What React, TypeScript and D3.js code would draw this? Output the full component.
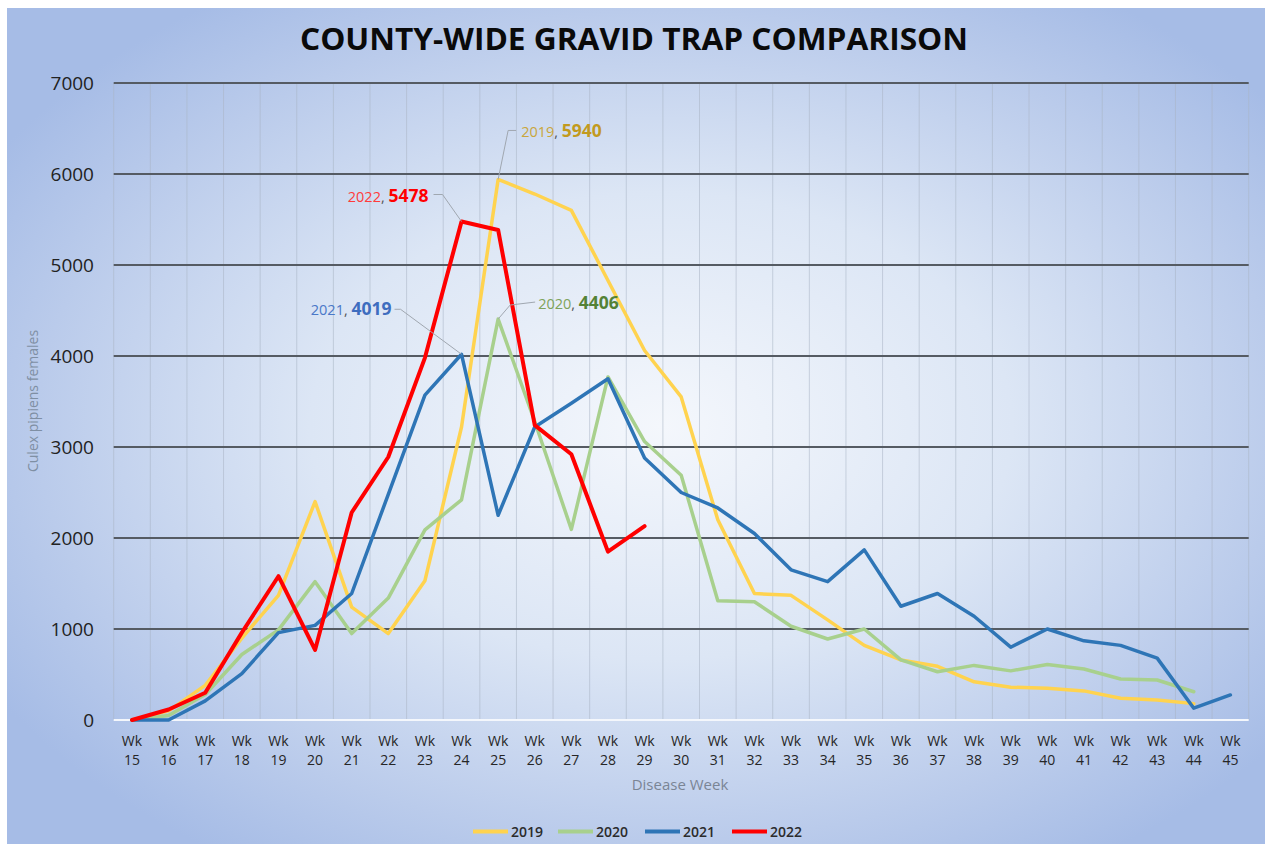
import React from "react";
import * as d3 from "d3";

const weeks = ["15","16","17","18","19","20","21","22","23","24","25","26","27","28","29","30","31","32","33","34","35","36","37","38","39","40","41","42","43","44","45"];
const yTicks = [0, 1000, 2000, 3000, 4000, 5000, 6000, 7000];

const s2019 = [0, 100, 380, 900, 1370, 2400, 1240, 950, 1530, 3220, 5940, 5780, 5600, 4830, 4060, 3550, 2200, 1390, 1370, 1100, 820, 660, 590, 420, 360, 350, 320, 240, 220, 180, null];
const s2020 = [0, 50, 280, 720, 990, 1520, 950, 1340, 2090, 2420, 4406, 3280, 2095, 3770, 3060, 2690, 1310, 1300, 1030, 890, 1000, 660, 530, 600, 540, 610, 560, 450, 440, 310, null];
const s2021 = [0, 0, 210, 510, 960, 1040, 1390, 2480, 3570, 4019, 2250, 3220, 3480, 3750, 2880, 2500, 2330, 2050, 1650, 1520, 1870, 1250, 1390, 1140, 800, 1000, 870, 820, 680, 130, 275];
const s2022 = [0, 115, 300, 960, 1580, 770, 2280, 2890, 3980, 5478, 5385, 3240, 2920, 1850, 2130, null, null, null, null, null, null, null, null, null, null, null, null, null, null, null, null];

const seriesNames = ["2019", "2020", "2021", "2022"];
const seriesData = [s2019, s2020, s2021, s2022];
const seriesColors = ["#FFD34F", "#A8D08D", "#2E75B6", "#FF0000"];
const seriesWidths = [3.5, 3.5, 3.5, 4];

// peak annotations: series index, week index, label offsets (style)
const annotations = [
  { s: 0, wi: 10, path: [[10, -49], [18, -49]], tx: 23, ty: -42, anchor: "start", c1: "#C9A63C", c2: "#C29A1E" },
  { s: 3, wi: 9, path: [[-19, -27], [-28, -27]], tx: -33, ty: -20, anchor: "end", c1: "#FF3B3B", c2: "#FF0000" },
  { s: 2, wi: 9, path: [[-61, -45], [-67, -45]], tx: -70, ty: -39, anchor: "end", c1: "#4A78C8", c2: "#3E6DBF" },
  { s: 1, wi: 10, path: [[12, -14], [37, -17]], tx: 40, ty: -10, anchor: "start", c1: "#7EA35A", c2: "#548235" },
];

const W = 1265;
const H = 844;
const font = "'Open Sans', 'Noto Sans', sans-serif";

export default function App() {
  const x = d3.scaleBand<string>().domain(weeks).range([113.7, 1248.7]).padding(0);
  const y = d3.scaleLinear().domain([0, 7000]).range([720, 83]);
  const cx = (i: number) => (x(weeks[i]) as number) + x.bandwidth() / 2;
  const line = d3
    .line<number | null>()
    .defined((d) => d != null)
    .x((_, i) => cx(i))
    .y((d) => y(d as number));

  const [x0, x1] = x.range();

  return (
    <>
      <style>{"body{margin:0;overflow:hidden}"}</style>
      <svg width={W} height={H} style={{ display: "block" }} fontFamily={font}>
        <defs>
          <radialGradient id="bg" cx="0.52" cy="0.5" r="0.62">
            <stop offset="0" stopColor="#F4F7FC" />
            <stop offset="0.45" stopColor="#DCE6F5" />
            <stop offset="0.8" stopColor="#BACBEB" />
            <stop offset="1" stopColor="#A6BCE6" />
          </radialGradient>
        </defs>
        <rect x={0} y={0} width={W} height={H} fill="#ffffff" />
        <rect x={7} y={8} width={W - 7} height={H - 8} fill="url(#bg)" />

        <text x={634} y={50} textAnchor="middle" fontSize={30} fontWeight={700} fill="#0a0a0a" textLength={668} lengthAdjust="spacingAndGlyphs">
          COUNTY-WIDE GRAVID TRAP COMPARISON
        </text>

        {/* vertical gridlines at category boundaries */}
        {weeks.map((w) => (
          <line key={"v" + w} x1={x(w) as number} x2={x(w) as number} y1={y(7000)} y2={y(0)} stroke="#A9B4C4" strokeOpacity={0.55} strokeWidth={1} />
        ))}
        <line x1={x1} x2={x1} y1={y(7000)} y2={y(0)} stroke="#A9B4C4" strokeOpacity={0.55} strokeWidth={1} />

        {/* horizontal gridlines */}
        {yTicks.map((t) => (
          <line key={"h" + t} x1={x0} x2={x1} y1={y(t)} y2={y(t)} stroke={t === 0 ? "#F4F7FC" : "#555B63"} strokeWidth={2} />
        ))}

        {/* y tick labels */}
        {yTicks.map((t) => (
          <text key={"yt" + t} x={94} y={y(t)} dy="0.36em" textAnchor="end" fontSize={19} fill="#222">
            {t}
          </text>
        ))}

        <text transform="translate(38,401) rotate(-90)" textAnchor="middle" fontSize={14} fill="#7F8FA3">
          Culex pipiens females
        </text>

        {/* x tick labels */}
        {weeks.map((w, i) => (
          <text key={"xt" + w} x={cx(i)} textAnchor="middle" fontSize={14} fill="#262626">
            <tspan x={cx(i)} y={746}>Wk</tspan>
            <tspan x={cx(i)} y={765}>{w}</tspan>
          </text>
        ))}

        <text x={680} y={790} textAnchor="middle" fontSize={15} fill="#7A8595">
          Disease Week
        </text>

        {/* series lines */}
        {seriesData.map((data, si) => (
          <path key={"s" + si} d={line(data) || ""} fill="none" stroke={seriesColors[si]} strokeWidth={seriesWidths[si]} strokeLinejoin="round" strokeLinecap="round" />
        ))}

        {/* annotations */}
        {annotations.map((a, k) => {
          const v = seriesData[a.s][a.wi] as number;
          const px = cx(a.wi);
          const py = y(v);
          const pts = [[px, py], ...a.path.map(([dx, dy]) => [px + dx, py + dy])];
          return (
            <g key={"a" + k}>
              <polyline points={pts.map((p) => p.join(",")).join(" ")} fill="none" stroke="#A0A7B0" strokeWidth={1} />
              <text x={px + a.tx} y={py + a.ty} textAnchor={a.anchor as any}>
                <tspan fontSize={14.5} fill={a.c1}>{seriesNames[a.s]}</tspan>
                <tspan fontSize={14.5} fill="#555">, </tspan>
                <tspan fontSize={17.5} fontWeight={700} fill={a.c2}>{v}</tspan>
              </text>
            </g>
          );
        })}

        {/* legend */}
        {seriesNames.map((n, i) => {
          const lx = [473, 558, 645, 732][i];
          return (
            <g key={"l" + n}>
              <line x1={lx} x2={lx + 35} y1={831.5} y2={831.5} stroke={seriesColors[i]} strokeWidth={4} />
              <text x={lx + 38} y={837} fontSize={14} fontWeight={600} fill="#2B2B2B">
                {n}
              </text>
            </g>
          );
        })}
      </svg>
    </>
  );
}
